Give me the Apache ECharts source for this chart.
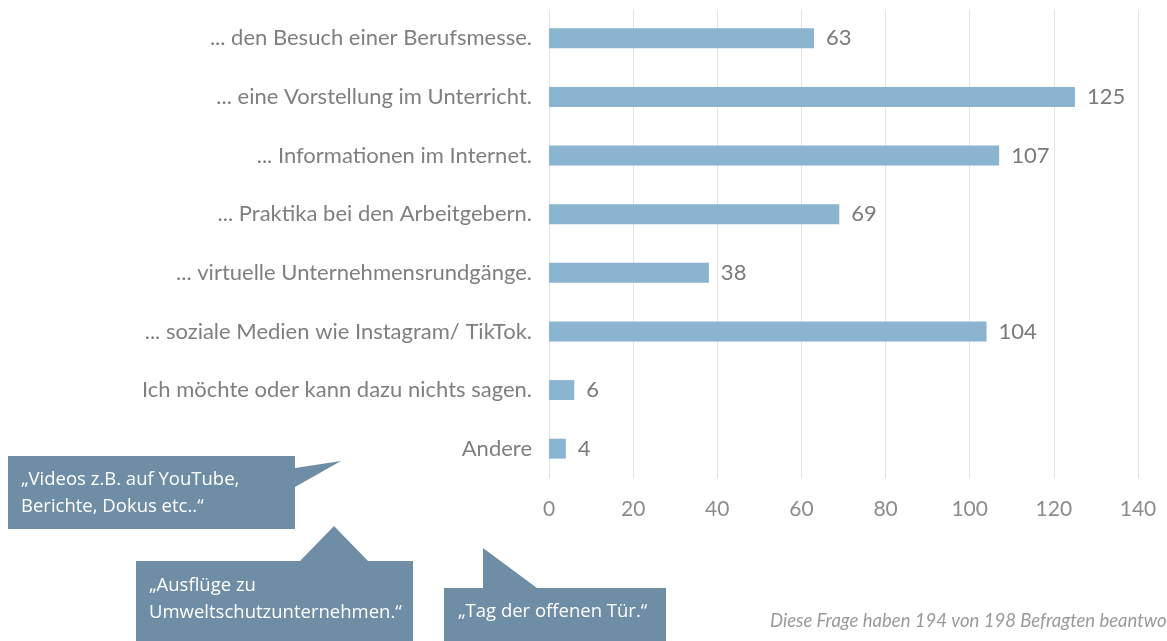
<!DOCTYPE html>
<html>
<head>
<meta charset="utf-8">
<script src="https://cdn.jsdelivr.net/npm/echarts@6/dist/echarts.min.js"></script>
<style>
  html, body { margin: 0; padding: 0; background: #fff; }
  #chart { width: 1167px; height: 641px; }
</style>
</head>
<body>
<div id="chart"></div>
<script>
// answers, top to bottom
const categories = [
  '... den Besuch einer Berufsmesse.',
  '... eine Vorstellung im Unterricht.',
  '... Informationen im Internet.',
  '... Praktika bei den Arbeitgebern.',
  '... virtuelle Unternehmensrundgänge.',
  '... soziale Medien wie Instagram/ TikTok.',
  'Ich möchte oder kann dazu nichts sagen.',
  'Andere'
]
const counts = [63, 125, 107, 69, 38, 104, 6, 4]
const xTicks = [0, 20, 40, 60, 80, 100, 120, 140]

const quotes = [
  '„Videos z.B. auf YouTube,\nBerichte, Dokus etc..“',
  '„Ausflüge zu\nUmweltschutzunternehmen.“',
  '„Tag der offenen Tür.“'
]
const footnote = 'Diese Frage haben 194 von 198 Befragten beantwortet.'

const boxColor = '#6f8ea6'
const quoteFont = '18.5px "Open Sans", "Noto Sans", sans-serif'

const myChart = echarts.init(document.getElementById('chart'))

myChart.setOption({
  animation: false,
  grid: {
    left: 549,
    top: 9,
    width: 589,
    height: 469,
    containLabel: false
  },
  xAxis: {
    type: 'value',
    min: xTicks[0],
    max: xTicks[xTicks.length - 1],
    interval: 20,
    axisLine: { show: false },
    axisTick: { show: false },
    splitLine: { lineStyle: { color: '#e4e4e4', width: 1 } },
    axisLabel: {
      color: '#8c8c8c',
      fontFamily: 'Lato',
      fontSize: 21,
      margin: 21
    }
  },
  yAxis: {
    type: 'category',
    inverse: true,
    data: categories,
    axisLine: { show: false },
    axisTick: { show: false },
    axisLabel: {
      color: '#7f7f7f',
      fontFamily: 'Lato',
      fontSize: 22,
      margin: 17
    }
  },
  series: [
    {
      type: 'bar',
      data: counts,
      barCategoryGap: '66%',
      itemStyle: { color: '#8ab4cf' },
      label: {
        show: true,
        position: 'right',
        distance: 12,
        color: '#7a7a7a',
        fontFamily: 'Lato',
        fontSize: 22
      }
    }
  ],
  graphic: [
    // callout 1, pointer to the right
    {
      type: 'polygon',
      shape: { points: [[8, 456], [295, 456], [295, 468], [341, 461], [295, 487], [295, 529], [8, 529]] },
      style: { fill: boxColor }
    },
    {
      type: 'text', left: 21, top: 466,
      style: { text: quotes[0], fill: '#ffffff', font: quoteFont, lineHeight: 27 }
    },
    // callout 2, pointer up
    {
      type: 'polygon',
      shape: { points: [[136, 561], [300, 561], [334, 526], [368, 561], [413, 561], [413, 645], [136, 645]] },
      style: { fill: boxColor }
    },
    {
      type: 'text', left: 149, top: 572,
      style: { text: quotes[1], fill: '#ffffff', font: quoteFont, lineHeight: 27 }
    },
    // callout 3, pointer up-left
    {
      type: 'polygon',
      shape: { points: [[444, 588], [483, 588], [483, 548], [537, 588], [666, 588], [666, 645], [444, 645]] },
      style: { fill: boxColor }
    },
    {
      type: 'text', left: 458, top: 598,
      style: { text: quotes[2], fill: '#ffffff', font: quoteFont, lineHeight: 27 }
    },
    {
      type: 'text', left: 770, top: 612,
      style: { text: footnote, fill: '#9a9a9a', font: 'italic 18.5px Lato' }
    }
  ]
})
</script>
</body>
</html>
